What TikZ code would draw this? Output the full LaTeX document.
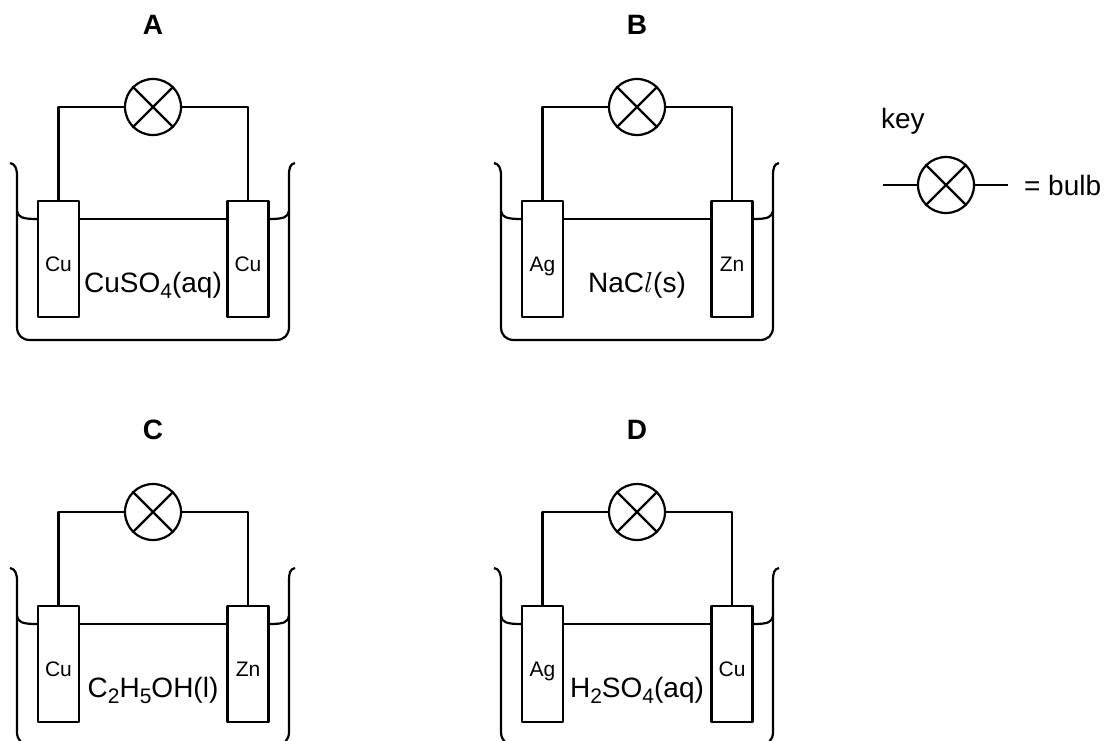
\documentclass[tikz,border=0pt]{standalone}
\usepackage{fontspec}
\setmainfont{Liberation Sans}
\tikzset{
  electrode/.style={draw, rectangle, minimum width=20.5pt, minimum height=58pt, inner sep=0pt},
  bulb/.style={draw, circle, minimum size=28pt, inner sep=0pt},
  metal/.style={anchor=base, font=\fontsize{10.5}{12}\selectfont},
  soln/.style={anchor=base, font=\fontsize{14}{16}\selectfont},
  cellname/.style={anchor=base, font=\fontsize{14}{16}\selectfont\bfseries},
  keytxt/.style={anchor=base west, inner xsep=0pt, font=\fontsize{14}{16}\selectfont},
}
\newcommand{\crossbulb}[1]{\draw (#1.north west) -- (#1.south east) (#1.north east) -- (#1.south west);}
\newcommand{\chsub}[1]{\raisebox{-0.22em}{\fontsize{10.5}{12}\selectfont #1}}

\begin{document}
\begin{tikzpicture}[x=0.5pt, y=-0.5pt, line width=1.1pt, line join=round]
  \useasboundingbox (0,0) rectangle (1106,740);

  \foreach \i/\dx/\dy/\mL/\mR/\liquid in {A/0/0/Cu/Cu/{CuSO\chsub{4}(aq)},
      B/484/0/Ag/Zn/{NaC$l$(s)},
      C/0/405/Cu/Zn/{C\chsub{2}H\chsub{5}OH(l)},
      D/484/405/Ag/Cu/{H\chsub{2}SO\chsub{4}(aq)}}{
  \begin{scope}[shift={(\dx,\dy)}]
    \node[cellname] (name\i) at (153,34) {\i};
    \node[bulb] (bulb\i) at (153,107) {};
    \crossbulb{bulb\i}
    \node[electrode] (elL\i) at (58.5,259) {};
    \node[electrode] (elR\i) at (248,259) {};
    \node[metal] (mL\i) at ([yshift=-6pt]elL\i.center) {\mL};
    \node[metal] (mR\i) at ([yshift=-6pt]elR\i.center) {\mR};
    \node[soln] (sol\i) at (153,292) {\liquid};

    \draw (elL\i.north) |- (bulb\i.west);
    \draw (elR\i.north) |- (bulb\i.east);

    % beaker and liquid surface
    \draw (10,163) .. controls (15,164) and (17,168) .. (17,176)
      -- (17,327) .. controls (17,335) and (22,340) .. (30,340)
      -- (276,340) .. controls (284,340) and (289,335) .. (289,327)
      -- (289,176) .. controls (289,168) and (290,164) .. (295,163);
    \draw (17,211) .. controls (18,217) and (22,219) .. (elL\i.west |- 0,219);
    \draw (elL\i.east |- 0,219) -- (elR\i.west |- 0,219);
    \draw (elR\i.east |- 0,219) .. controls (284,219) and (288,217) .. (289,211);
  \end{scope}
  }

  % key
  \node[keytxt] (keyword) at (880,128) {key};
  \node[bulb] (keybulb) at (946,185) {};
  \crossbulb{keybulb}
  \coordinate (keyL) at (883,185);
  \coordinate (keyR) at (1008,185);
  \draw (keyL) -- (keybulb.west);
  \draw (keybulb.east) -- (keyR);
  \node[keytxt] (keyname) at (1023,195) {= bulb};
\end{tikzpicture}
\end{document}
